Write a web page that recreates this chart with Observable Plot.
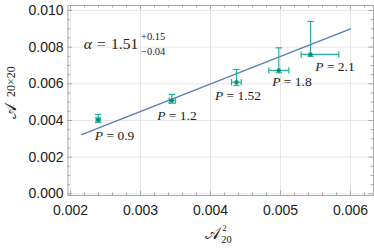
<!DOCTYPE html>
<html><head><meta charset="utf-8">
<script src="https://cdn.jsdelivr.net/npm/d3@7"></script>
<script src="https://cdn.jsdelivr.net/npm/@observablehq/plot@0.6"></script>
<style>body{margin:0;background:#fff}</style>
</head><body><div id="chart"></div>
<script>
// data
const pLabels = ["P = 0.9", "P = 1.2", "P = 1.52", "P = 1.8", "P = 2.1"];
const xVals = [0.002395, 0.003447, 0.004371, 0.004976, 0.005429];
const xLow  = [0.002365, 0.003410, 0.004300, 0.004833, 0.005296];
const xHigh = [0.002425, 0.003500, 0.004439, 0.005119, 0.005833];
const yVals = [0.00404, 0.00509, 0.00609, 0.00673, 0.00760];
const yLow  = [0.00390, 0.00494, 0.00592, 0.00660, 0.00750];
const yHigh = [0.00433, 0.00542, 0.00678, 0.00796, 0.00940];
const labelX = [0.002629, 0.003521, 0.004393, 0.005164, 0.005779];
const labelY = [0.00318, 0.00427, 0.00536, 0.00613, 0.00694];
const fitX = [0.00216, 0.00600];
const fitY = [0.00323, 0.00900];
const xTicks = [0.002, 0.003, 0.004, 0.005, 0.006];
const yTicks = [0.000, 0.002, 0.004, 0.006, 0.008, 0.010];
const xMinorTicks = [0.0022,0.0024,0.0026,0.0028,0.0032,0.0034,0.0036,0.0038,0.0042,0.0044,0.0046,0.0048,0.0052,0.0054,0.0056,0.0058,0.0062];
const yMinorTicks = [0.0005,0.0010,0.0015,0.0025,0.0030,0.0035,0.0045,0.0050,0.0055,0.0065,0.0070,0.0075,0.0085,0.0090,0.0095];

const pts = pLabels.map((label, i) => ({label, x: xVals[i], xl: xLow[i], xh: xHigh[i], y: yVals[i], yl: yLow[i], yh: yHigh[i], lx: labelX[i], ly: labelY[i]}));
const fit = fitX.map((x, i) => ({x, y: fitY[i]}));

const W = 374, H = 249, mL = 67.5, mR = 1, mT = 5, mB = 54;
const fw = W - mL - mR, fh = H - mT - mB;
const capH = {draw(ctx, size) { const w = 3.2; ctx.moveTo(-w, 0); ctx.lineTo(w, 0); }};
const capV = {draw(ctx, size) { const w = 3.2; ctx.moveTo(0, -w); ctx.lineTo(0, w); }};
const barColor = "#22b39c", dotColor = "#0f8f78", lineColor = "#5a7db5";
const frameC = "#a8a8a8", gridC = "#e6e6e6";
const serif = "'Liberation Serif', 'DejaVu Serif', serif";

const chart = Plot.plot({
  width: W, height: H,
  marginLeft: mL, marginRight: mR, marginTop: mT, marginBottom: mB,
  x: {domain: [0.001964, 0.006329]},
  y: {domain: [-0.0000927, 0.010271]},
  style: {fontFamily: "'Liberation Sans', sans-serif", fontSize: "14px", color: "#222", background: "#fff"},
  marks: [
    Plot.gridX(xTicks, {stroke: gridC, strokeOpacity: 1}),
    Plot.gridY(yTicks, {stroke: gridC, strokeOpacity: 1}),
    // inward ticks
    Plot.tickX(xTicks, {x: d => d, insetTop: fh - 4.5, stroke: frameC}),
    Plot.tickX(xTicks, {x: d => d, insetBottom: fh - 4.5, stroke: frameC}),
    Plot.tickX(xMinorTicks, {x: d => d, insetTop: fh - 2.5, stroke: frameC}),
    Plot.tickX(xMinorTicks, {x: d => d, insetBottom: fh - 2.5, stroke: frameC}),
    Plot.tickY(yTicks, {y: d => d, insetRight: fw - 4.5, stroke: frameC}),
    Plot.tickY(yTicks, {y: d => d, insetLeft: fw - 4.5, stroke: frameC}),
    Plot.tickY(yMinorTicks, {y: d => d, insetRight: fw - 2.5, stroke: frameC}),
    Plot.tickY(yMinorTicks, {y: d => d, insetLeft: fw - 2.5, stroke: frameC}),
    Plot.frame({stroke: frameC}),
    Plot.axisX({ticks: xTicks, tickSize: 0, tickPadding: 10, tickFormat: d3.format(".3f"), label: null}),
    Plot.axisY({ticks: yTicks, tickSize: 0, tickPadding: 4.5, tickFormat: d3.format(".3f"), label: null}),
    // fit line
    Plot.line(fit, {x: "x", y: "y", stroke: lineColor, strokeWidth: 1.4}),
    // error bars
    Plot.link(pts, {x1: "x", x2: "x", y1: "yl", y2: "yh", stroke: barColor, strokeWidth: 1.2}),
    Plot.link(pts, {x1: "xl", x2: "xh", y1: "y", y2: "y", stroke: barColor, strokeWidth: 1.2}),
    Plot.dot(pts, {x: "x", y: "yh", symbol: capH, stroke: barColor, strokeWidth: 1.2}),
    Plot.dot(pts, {x: "x", y: "yl", symbol: capH, stroke: barColor, strokeWidth: 1.2}),
    Plot.dot(pts, {x: "xl", y: "y", symbol: capV, stroke: barColor, strokeWidth: 1.2}),
    Plot.dot(pts, {x: "xh", y: "y", symbol: capV, stroke: barColor, strokeWidth: 1.2}),
    Plot.dot(pts, {x: "x", y: "y", r: 2.2, fill: dotColor, stroke: "none"}),
    // point labels
    Plot.text(pts, {x: "lx", y: "ly", text: "label", fontFamily: serif, fontSize: 13.5, fill: "#222"}),
    // alpha annotation
    Plot.text(["α\u2004=\u20041.51"], {frameAnchor: "top-left", dx: 15.8, dy: 38.3, textAnchor: "start", lineAnchor: "middle", fontFamily: serif, fontSize: 15.5, fill: "#222"}),
    Plot.text(["+0.15"], {frameAnchor: "top-left", dx: 73, dy: 30.7, textAnchor: "start", lineAnchor: "middle", fontFamily: serif, fontSize: 10.5, fill: "#222"}),
    Plot.text(["−0.04"], {frameAnchor: "top-left", dx: 73, dy: 45.7, textAnchor: "start", lineAnchor: "middle", fontFamily: serif, fontSize: 10.5, fill: "#222"}),
    // x axis label
    Plot.text(["𝒜"], {frameAnchor: "bottom", dx: -8.5, dy: 38, lineAnchor: "middle", fontFamily: serif, fontSize: 16, fill: "#222"}),
    Plot.text(["2"], {frameAnchor: "bottom", dx: 1.5, dy: 32.5, textAnchor: "start", lineAnchor: "middle", fontFamily: serif, fontSize: 8.5, fill: "#222"}),
    Plot.text(["20"], {frameAnchor: "bottom", dx: 0.5, dy: 44, textAnchor: "start", lineAnchor: "middle", fontFamily: serif, fontSize: 10.5, fill: "#222"}),
    // y axis label
    Plot.text(["𝒜"], {frameAnchor: "left", dx: -57.5, dy: 18.5, rotate: -90, lineAnchor: "middle", fontFamily: serif, fontSize: 16, fill: "#222"}),
    Plot.text(["20×20"], {frameAnchor: "left", dx: -56.5, dy: -3.5, rotate: -90, lineAnchor: "middle", fontFamily: serif, fontSize: 12, fill: "#222"})
  ]
});
// italic math variables
d3.select(chart).selectAll("text").each(function() {
  const t = this.textContent;
  let m = /^(P|α)(\s=.*)$/u.exec(t);
  if (m && this.childNodes.length === 1 && this.firstChild.nodeType === 3) {
    this.textContent = "";
    d3.select(this).append("tspan").attr("font-style", "italic").text(m[1]);
    d3.select(this).append("tspan").text(m[2]);
  }
});
document.getElementById("chart").append(chart);
</script>
</body></html>
